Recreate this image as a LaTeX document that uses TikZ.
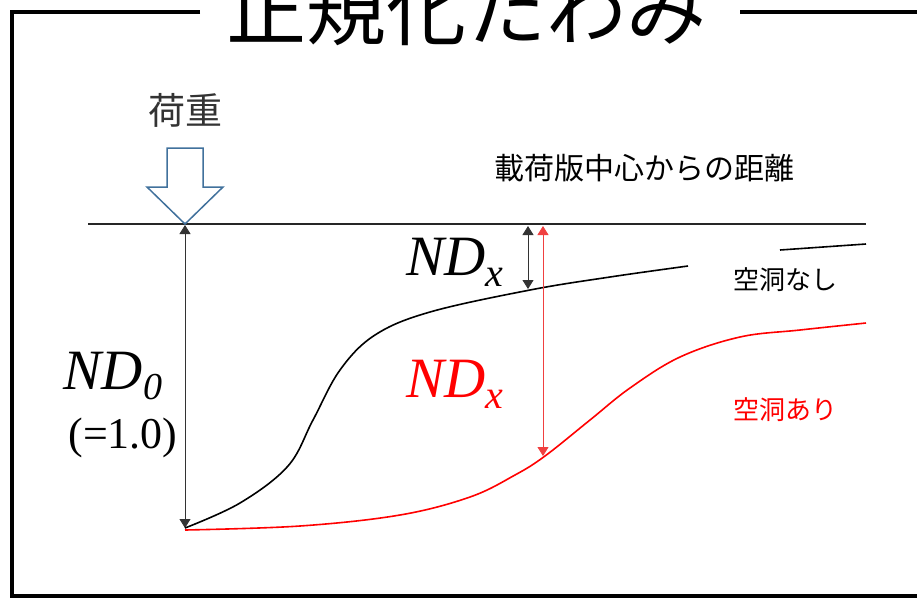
\documentclass[tikz,border=0pt]{standalone}
\usepackage{fontspec}
\setmainfont{Liberation Serif}
\newfontfamily\jpfont{Noto Sans CJK JP}
\usetikzlibrary{arrows.meta}
\definecolor{loadblue}{HTML}{41719C}
\definecolor{lightred}{HTML}{F04040}
\tikzset{
  frameline/.style={line width=4pt,black},
  dimarrow/.style={{Triangle[length=9pt,width=11pt]}-{Triangle[length=9pt,width=11pt]},line width=0.9pt},
  jplabel/.style={font=\jpfont\fontsize{#1}{#1}\selectfont,inner sep=0pt},
  ndlabel/.style={inner sep=0pt,align=center}
}
\newcommand{\ndx}[1]{{\fontsize{57}{57}\selectfont\itshape ND}\raisebox{-11pt}{\fontsize{40}{40}\selectfont\itshape #1}}
\begin{document}
\begin{tikzpicture}[x=1pt,y=-1pt]
\useasboundingbox (0,0) rectangle (917,598);
% frame
\coordinate (ftl) at (12,12);
\coordinate (ftm) at (200,12);
\coordinate (fbl) at (12,596);
\coordinate (fbr) at (917,596);
\coordinate (ftr1) at (740,12);
\coordinate (ftr2) at (917,12);
\draw[frameline] (ftm) -- (ftl) -- (fbl) -- (fbr);
\draw[frameline] (ftr1) -- (ftr2);
\node[jplabel=80,anchor=base] (title) at (466,39) {正規化たわみ};
% ground line
\coordinate (gl) at (88,224);
\coordinate (gr) at (866,224);
\draw[line width=1.6pt,black!85] (gl) -- (gr);
% load arrow
\node[jplabel=37,text=black!80] (load) at (185,110) {荷重};
\draw[loadblue,line width=1.5pt,fill=white,line join=miter]
  (167,148) -- (203,148) -- (203,187) -- (223,187) -- (185,224) -- (147,187) -- (167,187) -- cycle;
% ND0 arrow
\coordinate (p0top) at (185,225);
\coordinate (p0bot) at (185,528);
\draw[dimarrow,black!80] (p0top) -- (p0bot);
\node[ndlabel] (nd0) at (113,376) {{\fontsize{57}{57}\selectfont\itshape ND}\raisebox{-10pt}{\fontsize{38}{38}\selectfont\itshape 0}};
\node[ndlabel,font=\fontsize{44}{44}\selectfont] (one) at (123,438) {(=1.0)};
% curves
\draw[black,line width=1.6pt] plot[smooth,tension=0.6] coordinates
  {(185,528) (240,503) (288,466) (313,420) (340,370) (375,335) (430,312) (530,290) (610,277) (688,266)};
\draw[black,line width=1.6pt] (780,250) -- (866,244);
\draw[red,line width=1.6pt] plot[smooth,tension=0.6] coordinates
  {(185,530) (300,526) (400,515) (470,497) (515,475) (545,456) (590,420) (630,388) (680,357) (740,337) (800,330) (866,323)};
% NDx arrows
\coordinate (pxtop) at (528,226);
\coordinate (pxbot) at (528,289);
\draw[dimarrow,black!80] (pxtop) -- (pxbot);
\coordinate (prtop) at (543,226);
\coordinate (prbot) at (543,456);
\draw[dimarrow,lightred] (prtop) -- (prbot);
\node[ndlabel] (ndxb) at (455,262) {\ndx{x}};
\node[ndlabel,text=red] (ndxr) at (455,384) {\ndx{x}};
% labels
\node[jplabel=30] (dist) at (644,168) {載荷版中心からの距離};
\node[jplabel=26] (nashi) at (785,280) {空洞なし};
\node[jplabel=26,text=red] (ari) at (785,410) {空洞あり};
\end{tikzpicture}
\end{document}
